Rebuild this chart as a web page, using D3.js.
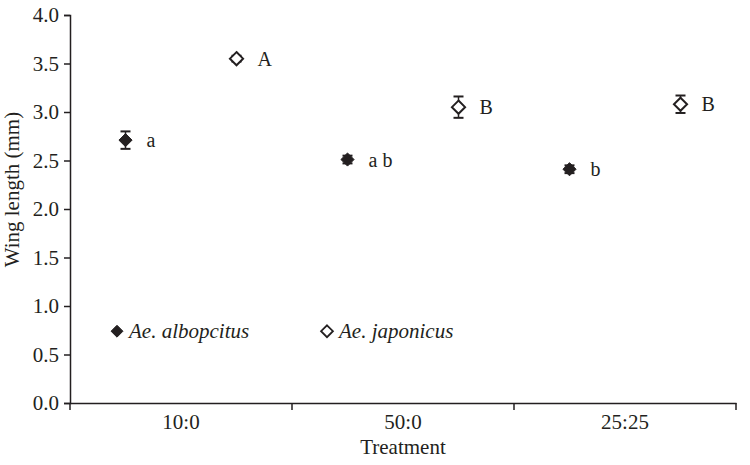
<!DOCTYPE html>
<html>
<head>
<meta charset="utf-8">
<script src="https://cdn.jsdelivr.net/npm/d3@7"></script>
<style>
  body { margin: 0; background: #fff; }
  text { font-family: "Liberation Serif", "Times New Roman", serif; fill: #231f20; }
</style>
</head>
<body>
<svg width="750" height="465"></svg>
<script>
var treatments = ["10:0", "50:0", "25:25"];
var species = ["Ae. albopcitus", "Ae. japonicus"];
var alboMean = [2.71, 2.51, 2.41];
var alboErr = [0.09, 0.04, 0.04];
var alboLetters = ["a", "a b", "b"];
var japMean = [3.55, 3.05, 3.08];
var japErr = [0.03, 0.11, 0.09];
var japLetters = ["A", "B", "B"];
var yTicks = [0, 0.5, 1, 1.5, 2, 2.5, 3, 3.5, 4];

var svg = d3.select("svg"),
  margin = {top: 15, right: 14, bottom: 62, left: 70},
  width = +svg.attr("width") - margin.left - margin.right,
  height = +svg.attr("height") - margin.top - margin.bottom,
  g = svg.append("g").attr("transform", "translate(" + margin.left + "," + margin.top + ")");

var x = d3.scaleBand().domain(treatments).range([0, width]);
var y = d3.scaleLinear().domain([0, 4]).range([height, 0]);

// y axis
var yAxis = g.append("g")
  .call(d3.axisLeft(y).tickValues(yTicks).tickFormat(d3.format(".1f")).tickSize(6).tickPadding(5));
yAxis.select(".domain").attr("stroke", "#231f20").attr("stroke-width", 1.5);
yAxis.selectAll(".tick line").attr("stroke", "#231f20").attr("stroke-width", 1.5);
yAxis.selectAll(".tick text").style("font-size", "21px").attr("fill", "#231f20");

// x axis with tick marks on band edges
var xAxis = g.append("g").attr("transform", "translate(0," + height + ")")
  .call(d3.axisBottom(x).tickSize(0).tickPadding(11));
xAxis.select(".domain").attr("stroke", "#231f20").attr("stroke-width", 1.5);
xAxis.selectAll(".tick text").style("font-size", "21px").attr("fill", "#231f20");
var edges = treatments.map(function (t) { return x(t); }).concat([width]);
xAxis.selectAll("line.edge").data(edges).enter().append("line")
  .attr("class", "edge")
  .attr("x1", function (d) { return d; }).attr("x2", function (d) { return d; })
  .attr("y1", 0).attr("y2", 7)
  .attr("stroke", "#231f20").attr("stroke-width", 1.5);

// axis titles
g.append("text")
  .attr("x", width / 2).attr("y", height + 51)
  .attr("text-anchor", "middle").style("font-size", "21px")
  .text("Treatment");
g.append("text")
  .attr("transform", "translate(" + (-51) + "," + (y(2.2)) + ") rotate(-90)")
  .attr("text-anchor", "middle").style("font-size", "21px")
  .text("Wing length (mm)");

var diamond = d3.symbol().type(d3.symbolDiamond2).size(110);

function drawSeries(means, errs, letters, offset, filled) {
  var data = treatments.map(function (t, i) {
    return {t: t, m: means[i], e: errs[i], l: letters[i]};
  });
  var cx = function (d) { return x(d.t) + x.bandwidth() * offset; };
  var s = g.append("g");
  var eb = s.selectAll("g.eb").data(data).enter().append("g").attr("class", "eb");
  eb.append("line")
    .attr("x1", cx).attr("x2", cx)
    .attr("y1", function (d) { return y(d.m + d.e); })
    .attr("y2", function (d) { return y(d.m - d.e); })
    .attr("stroke", "#231f20").attr("stroke-width", 1.5);
  [1, -1].forEach(function (sgn) {
    eb.append("line")
      .attr("x1", function (d) { return cx(d) - 5; })
      .attr("x2", function (d) { return cx(d) + 5; })
      .attr("y1", function (d) { return y(d.m + sgn * d.e); })
      .attr("y2", function (d) { return y(d.m + sgn * d.e); })
      .attr("stroke", "#231f20").attr("stroke-width", 2);
  });
  s.selectAll("path.pt").data(data).enter().append("path")
    .attr("class", "pt")
    .attr("d", diamond)
    .attr("transform", function (d) { return "translate(" + cx(d) + "," + y(d.m) + ")"; })
    .attr("fill", filled ? "#231f20" : "#fff")
    .attr("stroke", "#231f20").attr("stroke-width", filled ? 1 : 2);
  s.selectAll("text.lbl").data(data).enter().append("text")
    .attr("class", "lbl")
    .attr("x", function (d) { return cx(d) + 21; })
    .attr("y", function (d) { return y(d.m) + 7; })
    .style("font-size", "20px")
    .text(function (d) { return d.l; });
}

drawSeries(alboMean, alboErr, alboLetters, 0.25, true);
drawSeries(japMean, japErr, japLetters, 0.75, false);

// legend
var legendX = [47, 257];
var legendY = y(0.74);
var leg = g.selectAll("g.leg").data(species).enter().append("g")
  .attr("class", "leg")
  .attr("transform", function (d, i) { return "translate(" + legendX[i] + "," + legendY + ")"; });
leg.append("path")
  .attr("d", d3.symbol().type(d3.symbolDiamond2).size(90))
  .attr("fill", function (d, i) { return i === 0 ? "#231f20" : "#fff"; })
  .attr("stroke", "#231f20").attr("stroke-width", function (d, i) { return i === 0 ? 1 : 1.8; });
leg.append("text")
  .attr("x", 12).attr("y", 7)
  .style("font-size", "21px").style("font-style", "italic")
  .text(function (d) { return d; });
</script>
</body>
</html>
